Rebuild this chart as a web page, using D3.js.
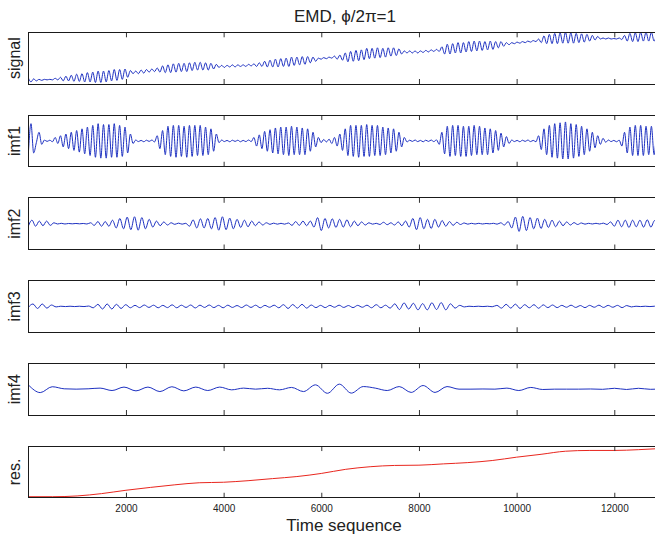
<!DOCTYPE html>
<html>
<head>
<meta charset="utf-8">
<script src="https://cdnjs.cloudflare.com/ajax/libs/d3/7.8.5/d3.min.js"></script>
<style>
  body { margin: 0; background: #fff; }
  svg { display: block; font-family: "Liberation Sans", Arial, Helvetica, sans-serif; }
</style>
</head>
<body>
<svg id="chart" width="655" height="541"></svg>
<script>
// x axis
const xMax = 12850;
const xTicks = [2000, 4000, 6000, 8000, 10000, 12000];

// panel labels (top to bottom)
const panelNames = ['signal', 'imf1', 'imf2', 'imf3', 'imf4', 'res.'];

// signal (0 = panel bottom, 100 = top), one value every 55 samples
const signalStep = 55;
const signalValues = [12,4,10,6,9,7,9,8,9,8,11,8,13,6,15,6,17,5,19,5,20,4,22,4,23,3,25,3,25,4,26,6,28,7,28,9,29,13,26,20,
  25,20,27,21,28,23,29,24,31,23,35,22,37,22,39,23,40,24,40,24,41,26,42,27,42,27,41,27,40,29,38,32,36,32,36,33,37,33,37,34,
  37,34,38,35,39,34,41,34,44,33,46,33,48,33,49,34,50,34,52,36,52,37,53,38,53,41,52,44,50,48,51,49,52,50,54,48,56,46,60,43,
  63,44,65,45,66,47,69,49,69,50,70,51,69,52,70,54,70,55,68,58,64,60,64,60,64,60,64,61,65,62,66,63,67,63,72,58,77,58,78,60,
  80,60,80,62,82,63,83,64,83,65,82,66,83,67,82,70,82,73,80,76,80,78,81,79,82,80,83,81,84,82,87,80,93,78,96,78,98,78,99,79,
  100,79,99,79,98,80,97,81,96,83,94,85,92,87,89,87,89,87,88,87,89,86,94,83,98,82,99,82,100,83,100,83,100,83,99];

// imf1 extrema, every 55 samples
const imf1Step = 55;
const imf1Values = [-0.8,1.0,-0.7,-0.1,0.5,-0.2,0.05,-0.03,0.04,-0.05,0.2,-0.15,0.3,-0.35,
  0.4,-0.45,0.5,-0.55,0.6,-0.65,0.7,-0.75,0.8,-0.85,0.9,
  -0.95,1.0,-1.0,0.95,-1.0,0.95,-0.95,1.0,-0.95,0.9,-0.9,0.8,-0.7,0.4,-0.15,
  0.05,-0.04,0.03,-0.05,0.04,-0.03,0.05,-0.06,0.3,-0.45,0.6,
  -0.8,0.85,-0.9,0.9,-0.95,0.9,-0.9,0.85,-0.95,0.9,-0.9,0.9,-0.85,0.9,-0.85,0.8,-0.8,0.7,-0.6,0.4,
  -0.1,0.05,-0.04,0.03,-0.05,0.04,-0.03,0.04,-0.05,0.03,-0.04,0.05,-0.04,0.2,-0.3,0.35,-0.45,
  0.55,-0.6,0.65,-0.7,0.75,-0.75,0.8,-0.8,0.8,-0.85,0.85,-0.8,0.8,-0.8,0.75,-0.8,0.7,-0.6,0.5,-0.35,0.2,
  -0.1,0.08,-0.06,0.1,-0.15,0.2,-0.3,0.4,-0.55,0.7,-0.85,
  0.9,-0.9,0.9,-0.95,0.9,-0.9,0.95,-0.9,0.9,-0.85,0.9,-0.85,0.8,-0.8,0.75,-0.7,0.7,-0.6,0.5,-0.35,0.2,
  -0.06,0.04,-0.03,0.05,-0.04,0.03,-0.05,0.04,-0.03,0.05,-0.04,0.06,
  -0.2,0.5,-0.75,0.85,-0.9,0.9,-0.85,0.9,-0.9,0.85,-0.9,0.85,-0.85,0.9,-0.8,0.85,-0.8,0.75,-0.8,0.7,-0.7,0.6,-0.55,0.45,-0.35,0.25,-0.15,
  0.05,-0.04,0.03,-0.05,0.04,-0.03,0.05,-0.04,0.03,-0.05,
  0.3,-0.5,0.7,-0.8,0.9,-0.95,1.0,-1.0,1.05,-1.05,1.1,-1.05,1.0,-1.0,0.95,-0.9,0.85,-0.8,0.7,-0.6,0.5,-0.4,0.3,-0.2,
  0.15,-0.08,0.05,-0.04,0.03,-0.05,0.04,
  -0.3,0.5,-0.7,0.8,-0.85,0.9,-0.85,0.9,-0.85,0.85,-0.8,0.85,-0.8,0.85];

// imf2 extrema, every 75 samples
const imf2Step = 75;
const imf2Values = [-0.15,0.2,-0.15,0.15,-0.12,0.15,-0.1,0.05,
  -0.02,0.02,-0.02,0.01,-0.01,0.01,-0.01,0.01,-0.02,
  0.05,-0.1,0.12,-0.15,0.12,-0.15,
  0.2,-0.25,0.3,-0.3,0.38,-0.35,0.4,-0.38,0.35,-0.3,0.25,-0.2,
  0.15,-0.12,0.1,-0.08,0.05,-0.04,0.03,-0.03,0.02,
  -0.15,0.22,-0.25,0.28,-0.25,0.3,-0.3,
  0.35,-0.38,0.4,-0.35,0.32,-0.3,0.25,
  -0.22,0.2,-0.18,0.15,-0.12,0.1,-0.08,
  0.05,-0.04,0.03,-0.03,0.02,-0.03,0.04,
  -0.1,0.12,-0.1,0.15,-0.12,0.15,-0.2,0.35,-0.4,
  0.3,-0.25,0.28,-0.22,0.25,-0.2,0.22,-0.18,0.15,-0.12,0.1,-0.08,
  0.05,-0.03,0.02,-0.05,0.08,-0.06,0.05,-0.08,0.1,-0.12,0.15,
  -0.2,0.3,-0.35,0.35,-0.3,0.25,-0.28,0.25,-0.2,0.18,-0.15,0.12,-0.1,0.08,
  -0.05,0.04,-0.03,0.02,-0.02,0.02,-0.02,0.01,-0.01,0.02,-0.03,0.05,-0.08,0.12,
  -0.25,0.38,-0.45,0.42,-0.4,0.35,-0.3,0.32,-0.28,0.25,-0.22,0.2,-0.18,0.15,-0.12,
  0.1,-0.08,0.06,-0.05,0.04,-0.03,0.02,-0.02,0.02,-0.02,0.03,-0.05,
  0.1,-0.15,0.2,-0.18,0.2,-0.22,0.2,-0.18,0.2,-0.2,0.22,-0.2,0.18,-0.2];

// imf3 extrema, every 95 samples
const imf3Step = 95;
const imf3Values = [-0.05,0.14,-0.12,0.14,-0.1,0.08,
  -0.03,0.01,-0.01,0.01,-0.01,0.01,-0.01,0.02,
  -0.08,0.12,-0.15,0.14,-0.15,0.12,-0.12,0.1,-0.08,
  0.06,-0.07,0.08,-0.06,0.07,-0.08,0.06,-0.07,0.09,-0.08,0.07,-0.06,0.08,-0.09,0.07,-0.06,0.08,-0.07,0.06,-0.08,0.07,
  -0.06,0.05,-0.07,0.08,-0.06,0.07,-0.08,0.06,-0.05,0.07,-0.08,0.1,-0.12,0.11,-0.1,0.12,-0.1,0.08,-0.07,0.06,-0.07,
  0.06,-0.05,0.07,-0.06,0.05,-0.07,0.06,-0.05,0.07,-0.08,0.1,-0.08,0.07,-0.1,
  0.15,-0.18,0.2,-0.15,0.18,-0.2,0.16,-0.2,0.21,-0.18,0.22,-0.2,0.15,-0.1,0.06,-0.03,
  0.01,-0.01,0.01,-0.01,0.01,-0.02,
  0.06,-0.1,0.12,-0.1,0.13,-0.12,0.1,-0.08,0.1,-0.11,0.09,-0.07,0.08,-0.07,
  0.06,-0.05,0.07,-0.06,0.05,-0.07,0.06,-0.05,0.07,-0.06,0.06,-0.05,0.06,-0.07,0.05,-0.03,
  0.01,-0.01,0.01,-0.01,0.01,-0.01];

// imf4 extrema, every 245 samples
const imf4Step = 245;
const imf4Values = [0.25,-0.2,0.14,0.02,0,0.02,0.06,-0.08,0.12,-0.1,0.12,-0.14,0.14,-0.1,0.12,-0.08,0.12,-0.04,
  0.06,0,0.05,-0.04,0.1,-0.14,0.25,-0.24,0.29,-0.23,0.15,0.06,-0.08,0.15,-0.19,0.21,-0.19,0.15,
  0,0,0.01,0,0.06,-0.08,0.1,-0.02,0,0,0,0.01,-0.01,0.05,-0.02,0.05,-0.01,0.02];

// residue, every 500 samples (0 = panel bottom, 1 = top)
const resStep = 500;
const resValues = [0.02,0.02,0.035,0.08,0.145,0.2,0.25,0.29,0.3,0.33,0.37,0.41,0.47,0.55,0.6,0.625,0.63,
  0.655,0.68,0.72,0.785,0.84,0.9,0.915,0.915,0.93,0.955];

const blue = '#1d30c0';
const red = '#e8261e';

const series = [
  { step: signalStep, values: signalValues, domain: [0, 100], color: blue },
  { step: imf1Step, values: imf1Values, domain: [-1.5, 1.5], color: blue },
  { step: imf2Step, values: imf2Values, domain: [-1.5, 1.5], color: blue },
  { step: imf3Step, values: imf3Values, domain: [-1.5, 1.5], color: blue },
  { step: imf4Step, values: imf4Values, domain: [-1.5, 1.5], color: blue },
  { step: resStep, values: resValues, domain: [0, 1], color: red }
];

const svg = d3.select('#chart');
const left = 28.3, right = 655.8;
const panelTop = 32.3, panelStep = 82.75, panelH = 51.7;

const x = d3.scaleLinear().domain([0, xMax]).range([left, right]);

series.forEach((s, k) => {
  const top = panelTop + k * panelStep;
  const y = d3.scaleLinear().domain(s.domain).range([top + panelH, top]);
  const g = svg.append('g');

  g.append('clipPath').attr('id', 'clip' + k)
    .append('rect')
    .attr('x', left).attr('y', top)
    .attr('width', right - left).attr('height', panelH);

  const line = d3.line()
    .x((d, i) => x(i * s.step))
    .y(d => y(d))
    .curve(d3.curveMonotoneX);

  g.append('path')
    .datum(s.values)
    .attr('clip-path', `url(#clip${k})`)
    .attr('fill', 'none')
    .attr('stroke', s.color)
    .attr('stroke-width', 1)
    .attr('d', line);

  // ticks inside, top and bottom
  const bottomAxis = g.append('g')
    .attr('transform', `translate(0,${top + panelH})`)
    .call(d3.axisBottom(x).tickValues(xTicks).tickSize(-5).tickSizeOuter(0).tickPadding(7.5)
      .tickFormat(k === series.length - 1 ? d3.format('d') : ''));
  const topAxis = g.append('g')
    .attr('transform', `translate(0,${top})`)
    .call(d3.axisTop(x).tickValues(xTicks).tickSize(-5).tickSizeOuter(0).tickFormat(''));

  [bottomAxis, topAxis].forEach(a => {
    a.select('.domain').remove();
    a.selectAll('.tick line').attr('stroke', '#333');
    a.selectAll('.tick text').attr('font-size', 10).attr('fill', '#222')
      .attr('font-family', '"Liberation Sans", Arial, sans-serif');
  });

  g.append('rect')
    .attr('x', left).attr('y', top)
    .attr('width', right - left).attr('height', panelH)
    .attr('fill', 'none').attr('stroke', '#1a1a1a').attr('stroke-width', 1)
    .attr('shape-rendering', 'crispEdges');

  g.append('text')
    .attr('transform', `translate(20,${top + panelH / 2}) rotate(-90)`)
    .attr('text-anchor', 'middle')
    .attr('font-size', 16)
    .attr('fill', '#222')
    .text(panelNames[k]);
});

svg.append('text')
  .attr('x', 345).attr('y', 22)
  .attr('text-anchor', 'middle')
  .attr('font-size', 17)
  .attr('fill', '#222')
  .text('EMD, \u03d5/2\u03c0=1');

svg.append('text')
  .attr('x', 344).attr('y', 531)
  .attr('text-anchor', 'middle')
  .attr('font-size', 17)
  .attr('fill', '#222')
  .text('Time sequence');
</script>
</body>
</html>
